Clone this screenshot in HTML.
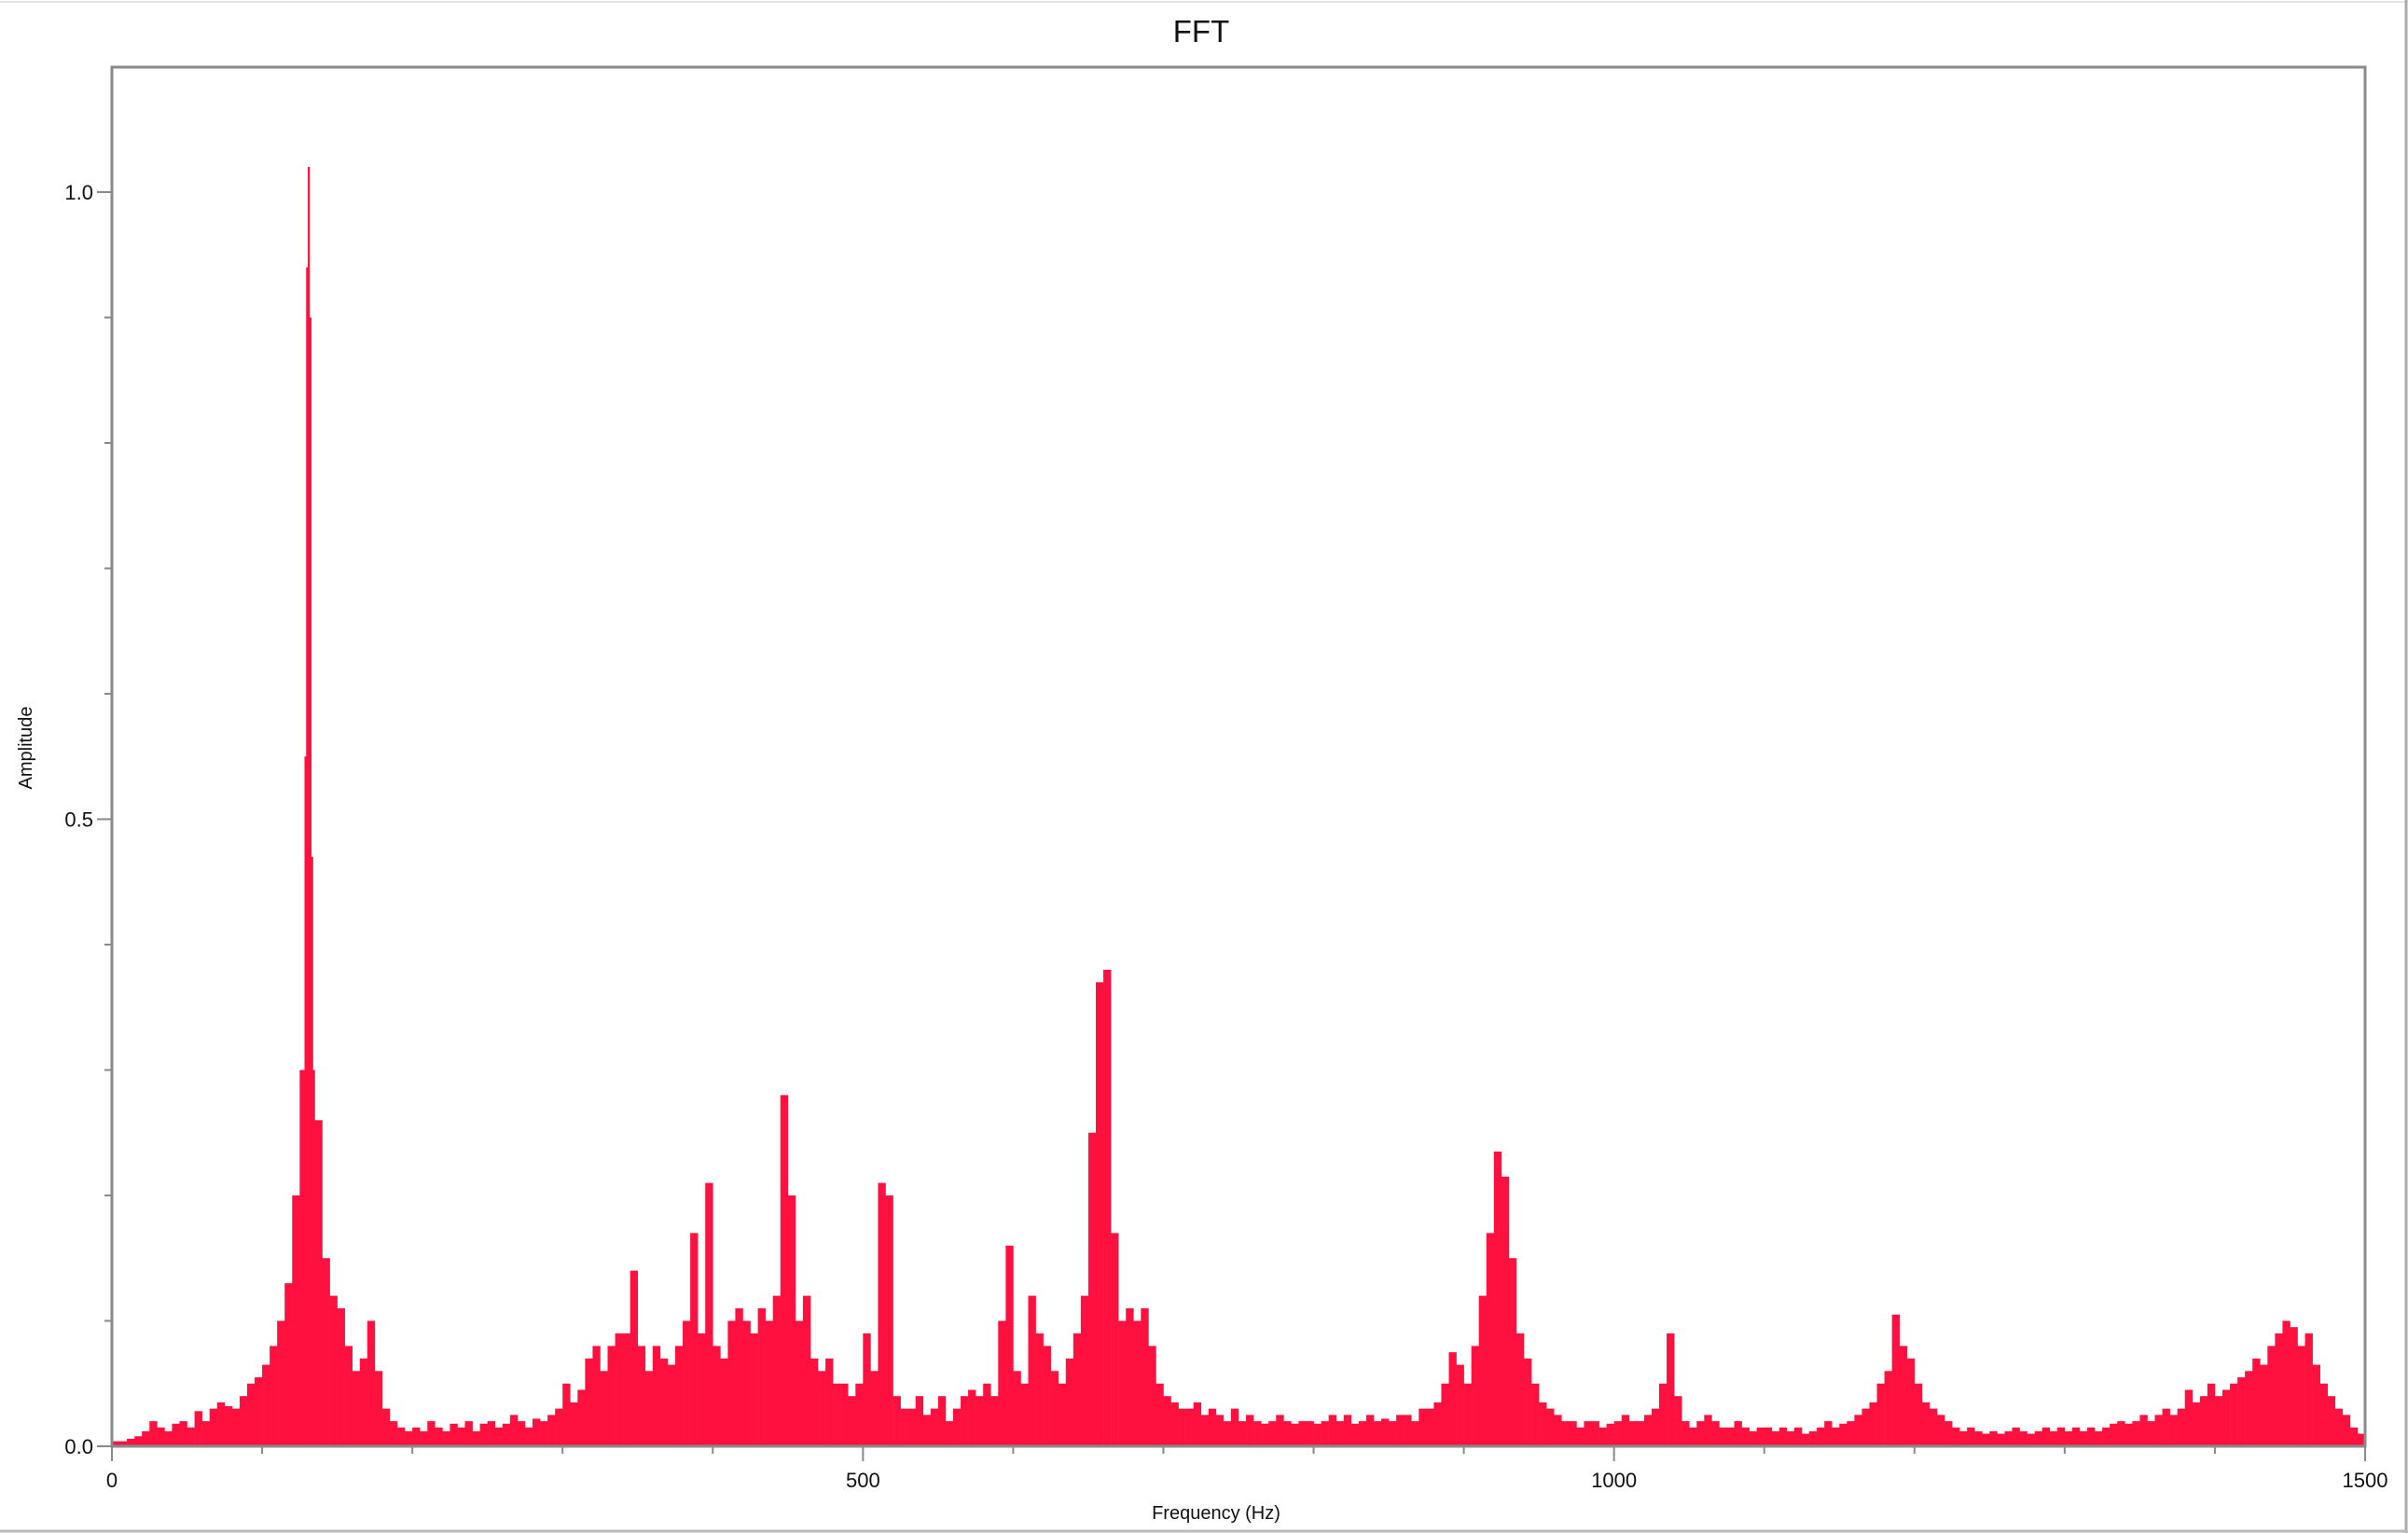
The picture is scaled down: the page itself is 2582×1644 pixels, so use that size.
<!DOCTYPE html>
<html><head><meta charset="utf-8"><style>
html,body{margin:0;padding:0;background:#fff;}
svg{display:block;font-family:"Liberation Sans",sans-serif;}
</style></head><body>
<svg id="chart" width="2582" height="1644" viewBox="0 0 2582 1644" xmlns="http://www.w3.org/2000/svg">
<rect x="0" y="0" width="2582" height="1644" fill="#fff"/>
<line x1="0" y1="2" x2="2582" y2="2" stroke="#e4e4e4" stroke-width="2"/>
<line x1="2580" y1="0" x2="2580" y2="1644" stroke="#aaa" stroke-width="3"/>
<line x1="0" y1="1642" x2="2582" y2="1642" stroke="#bbb" stroke-width="3"/>
<text x="1288" y="45" font-size="33" text-anchor="middle" fill="#111">FFT</text>
<g id="bars"></g>
<rect x="120" y="72" width="2416" height="1479" fill="none" stroke="#8a8a8a" stroke-width="3"/>
<g id="axes"></g>
<text x="0" y="0" font-size="20" text-anchor="middle" fill="#111" transform="translate(34,802) rotate(-90)">Amplitude</text>
<text x="1304" y="1629" font-size="20" text-anchor="middle" fill="#111">Frequency (Hz)</text>
</svg>
<script>
const binWidth = 5;
const amplitudes = [
0.004,0.004,0.006,0.008,0.012,0.02,0.015,0.012,0.018,0.02,0.015,0.028,0.02,0.03,0.035,0.032,0.03,0.04,0.05,0.055,
0.065,0.08,0.1,0.13,0.2,0.3,0.3,0.26,0.15,0.12,0.11,0.08,0.06,0.07,0.1,0.06,0.03,0.02,0.015,0.012,
0.015,0.012,0.02,0.015,0.012,0.018,0.015,0.02,0.012,0.018,0.02,0.015,0.018,0.025,0.02,0.015,0.022,0.02,0.025,0.03,
0.05,0.035,0.045,0.07,0.08,0.06,0.08,0.09,0.09,0.14,0.08,0.06,0.08,0.07,0.065,0.08,0.1,0.17,0.09,0.21,
0.08,0.07,0.1,0.11,0.1,0.09,0.11,0.1,0.12,0.28,0.2,0.1,0.12,0.07,0.06,0.07,0.05,0.05,0.04,0.05,
0.09,0.06,0.21,0.2,0.04,0.03,0.03,0.04,0.025,0.03,0.04,0.02,0.03,0.04,0.045,0.04,0.05,0.04,0.1,0.16,
0.06,0.05,0.12,0.09,0.08,0.06,0.05,0.07,0.09,0.12,0.25,0.37,0.38,0.17,0.1,0.11,0.1,0.11,0.08,0.05,
0.04,0.035,0.03,0.03,0.035,0.025,0.03,0.025,0.02,0.03,0.02,0.025,0.02,0.018,0.02,0.025,0.02,0.018,0.02,0.02,
0.018,0.02,0.025,0.02,0.025,0.018,0.02,0.025,0.02,0.022,0.02,0.025,0.025,0.02,0.03,0.03,0.035,0.05,0.075,0.065,
0.05,0.08,0.12,0.17,0.235,0.215,0.15,0.09,0.07,0.05,0.035,0.03,0.025,0.02,0.02,0.015,0.02,0.02,0.015,0.018,
0.02,0.025,0.02,0.02,0.025,0.03,0.05,0.09,0.04,0.02,0.015,0.02,0.025,0.02,0.015,0.015,0.02,0.015,0.012,0.015,
0.015,0.012,0.015,0.012,0.015,0.01,0.012,0.015,0.02,0.015,0.018,0.02,0.025,0.03,0.035,0.05,0.06,0.105,0.08,0.07,
0.05,0.035,0.03,0.025,0.02,0.015,0.012,0.015,0.012,0.01,0.012,0.01,0.012,0.015,0.012,0.01,0.012,0.015,0.012,0.015,
0.012,0.015,0.012,0.015,0.012,0.015,0.018,0.02,0.018,0.02,0.025,0.02,0.025,0.03,0.025,0.03,0.045,0.035,0.04,0.05,
0.04,0.045,0.05,0.055,0.06,0.07,0.065,0.08,0.09,0.1,0.095,0.08,0.09,0.065,0.05,0.04,0.03,0.025,0.015,0.01
];
const spikeWidth = 1.2;
const spikeFreqs = [128.2, 129.3, 130.4, 131.5, 132.6];
const spikeAmps = [0.55, 0.94, 1.02, 0.9, 0.47];
const xTickValues = [0, 500, 1000, 1500];
const xTickLabels = ["0", "500", "1000", "1500"];
const yTickValues = [0, 0.5, 1.0];
const yTickLabels = ["0.0", "0.5", "1.0"];

const X0 = 120, X1 = 2536, Y0 = 1551, Y1 = 206;
function xs(f){ return X0 + (f/1500)*(X1-X0); }
function ys(v){ return Y0 - v*(Y0-Y1); }
const NS = "http://www.w3.org/2000/svg";
const bars = document.getElementById('bars');
function addBar(f, w, v){
  const r = document.createElementNS(NS,'rect');
  const x = xs(f), pw = xs(f+w)-x;
  r.setAttribute('x', x);
  r.setAttribute('y', ys(v));
  r.setAttribute('width', pw+0.3);
  r.setAttribute('height', Math.max(0, Y0-ys(v)));
  r.setAttribute('fill', '#ff113f');
  
  
  bars.appendChild(r);
}
amplitudes.forEach((v,i)=> addBar(i*binWidth, binWidth, v));
spikeFreqs.forEach((f,i)=> addBar(f, spikeWidth, spikeAmps[i]));
const axes = document.getElementById('axes');
function line(x1,y1,x2,y2,name){
  const l = document.createElementNS(NS,'line');
  l.setAttribute('x1',x1); l.setAttribute('y1',y1); l.setAttribute('x2',x2); l.setAttribute('y2',y2);
  l.setAttribute('stroke','#8a8a8a'); l.setAttribute('stroke-width','2');
  
  
  axes.appendChild(l);
}
for(let f=0; f<=1500; f+=100){
  const major = f%500===0;
  line(xs(f), Y0, xs(f), Y0+(major?16:8), 'x-tick');
}
for(let k=0; k<=10; k++){
  const v = k/10;
  const major = k%5===0;
  line(X0, ys(v), X0-(major?16:8), ys(v), 'y-tick');
}
xTickValues.forEach((v,i)=>{
  const t = document.createElementNS(NS,'text');
  t.setAttribute('x', xs(v)); t.setAttribute('y', 1595);
  t.setAttribute('font-size','22'); t.setAttribute('text-anchor','middle'); t.setAttribute('fill','#111');
  t.textContent = xTickLabels[i];
  
  
  axes.appendChild(t);
});
yTickValues.forEach((v,i)=>{
  const t = document.createElementNS(NS,'text');
  t.setAttribute('x', 100); t.setAttribute('y', ys(v)+8);
  t.setAttribute('font-size','22'); t.setAttribute('text-anchor','end'); t.setAttribute('fill','#111');
  t.textContent = yTickLabels[i];
  
  
  axes.appendChild(t);
});
</script>
</body></html>
